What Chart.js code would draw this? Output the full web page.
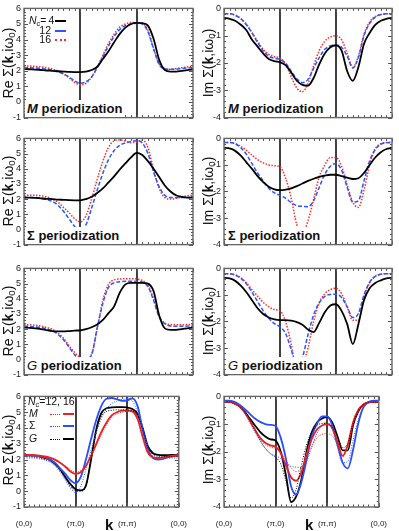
<!DOCTYPE html>
<html lang="en">
<head>
<meta charset="UTF-8">
<title>Self-energy periodization</title>
<script src="https://cdn.jsdelivr.net/npm/chart.js"></script>
<style>
body{margin:0;background:#fff;font-family:"Liberation Sans",Arial,sans-serif;color:#111}
#fig{position:relative;width:399px;height:531px;overflow:hidden}
#fig canvas{position:absolute}
.t{position:absolute;white-space:nowrap;line-height:1}
.ytitle{font-size:14px;transform:translate(-50%,-50%) rotate(-90deg)}
.plab{font-weight:bold;font-size:13px;background:#fff;padding:2px 3px 2px 2px;line-height:13px}
.leg{font-size:10.5px;line-height:11px}
.ln{position:absolute;height:0}
sub{font-size:70%;vertical-align:-0.25em;line-height:0}
.kx{font-weight:bold;font-size:15px}
</style>
</head>
<body>
<div id="fig">
    <!-- y axis titles -->
    <div class="t ytitle" style="left:8px;top:63px">Re Σ(<b>k</b>,iω<sub>0</sub>)</div>
    <div class="t ytitle" style="left:8px;top:191px">Re Σ(<b>k</b>,iω<sub>0</sub>)</div>
    <div class="t ytitle" style="left:8px;top:321px">Re Σ(<b>k</b>,iω<sub>0</sub>)</div>
    <div class="t ytitle" style="left:8px;top:450px">Re Σ(<b>k</b>,iω<sub>0</sub>)</div>
    <div class="t ytitle" style="left:208px;top:63px">Im Σ(<b>k</b>,iω<sub>0</sub>)</div>
    <div class="t ytitle" style="left:208px;top:191px">Im Σ(<b>k</b>,iω<sub>0</sub>)</div>
    <div class="t ytitle" style="left:208px;top:321px">Im Σ(<b>k</b>,iω<sub>0</sub>)</div>
    <div class="t ytitle" style="left:208px;top:450px">Im Σ(<b>k</b>,iω<sub>0</sub>)</div>
</div>

<script>
    // path (0,0) -> (pi,0) -> (pi,pi) -> (0,0), each leg = 1
    const kPath = [0, 0.1, 0.2, 0.3, 0.4, 0.5, 0.6, 0.7, 0.8, 0.9, 1.0,
                   1.1, 1.2, 1.3, 1.4, 1.5, 1.6, 1.7, 1.8, 1.9, 2.0,
                   2.1, 2.2, 2.3, 2.4, 2.5, 2.6, 2.7, 2.8, 2.9, 3.0];
    const kTicks = ['(0,0)', '(π,0)', '(π,π)', '(0,0)'];
    const kMarks = [1, 2];
    const reRange = [-1, 6];
    const imRange = [-4, 0];

    // Re Sigma, M periodization
    const reM4  = [2.12,2.1,2.08,2.05,2.02,2.0,1.97,1.95,1.93,1.92,1.92,1.95,2.05,2.26,2.76,3.26,3.83,4.37,4.77,5.0,5.07,5.05,4.9,4.05,2.7,2.05,1.95,1.95,2.0,2.05,2.08];
    const reM12 = [2.2,2.2,2.18,2.15,2.1,2.05,1.95,1.8,1.6,1.35,1.2,1.3,1.6,2.2,2.9,3.6,4.2,4.65,4.9,5.0,5.05,5.0,4.5,3.4,2.4,2.12,2.1,2.1,2.15,2.18,2.2];
    const reM16 = [2.3,2.3,2.28,2.25,2.2,2.12,2.0,1.8,1.55,1.25,1.1,1.2,1.6,2.25,3.0,3.75,4.35,4.8,5.0,5.1,5.1,5.05,4.6,3.45,2.45,2.15,2.1,2.15,2.2,2.25,2.3];
    // Re Sigma, Sigma periodization
    const reS4  = [2.1,2.1,2.08,2.05,2.02,2.0,1.97,1.95,1.93,1.92,1.92,2.0,2.15,2.4,2.7,3.1,3.5,3.95,4.35,4.75,5.05,4.9,4.5,4.0,3.45,2.9,2.5,2.25,2.15,2.1,2.1];
    const reS12 = [2.1,2.1,2.1,2.05,1.98,1.85,1.6,1.2,0.7,0.2,-0.1,0.3,1.4,2.6,3.7,4.6,5.2,5.55,5.7,5.8,5.85,5.7,5.0,3.8,2.8,2.25,2.1,2.1,2.1,2.1,2.1];
    const reS16 = [2.25,2.25,2.25,2.22,2.15,2.0,1.8,1.45,1.1,0.7,0.5,0.9,2.0,3.3,4.5,5.4,5.85,5.9,5.82,5.72,5.75,5.88,5.4,3.9,2.7,2.1,2.0,2.05,2.15,2.22,2.25];
    // Re Sigma, G periodization
    const reG4  = [2.1,2.08,2.05,2.0,1.93,1.87,1.85,1.85,1.87,1.9,1.92,2.0,2.12,2.3,2.6,3.05,3.5,4.4,4.95,5.05,5.05,5.05,5.0,4.5,2.9,2.05,1.95,1.95,2.0,2.05,2.1];
    const reG12 = [2.2,2.18,2.15,2.1,2.0,1.9,1.65,1.3,0.8,0.3,0.02,0.0,0.3,2.1,3.7,4.75,5.05,5.12,5.15,5.15,5.15,5.1,4.8,3.9,2.8,2.35,2.2,2.18,2.18,2.2,2.2];
    const reG16 = [2.3,2.28,2.25,2.2,2.1,2.0,1.75,1.4,0.9,0.45,0.12,0.05,0.35,2.0,3.9,4.95,5.25,5.3,5.32,5.32,5.3,5.2,4.9,4.0,2.85,2.4,2.3,2.28,2.28,2.3,2.3];

    // Im Sigma, M periodization
    const imM4  = [-0.35,-0.38,-0.45,-0.6,-0.8,-1.15,-1.4,-1.65,-1.85,-1.93,-1.97,-2.08,-2.35,-2.65,-2.8,-2.83,-2.55,-2.05,-1.65,-1.42,-1.35,-1.55,-2.3,-2.65,-2.15,-1.3,-0.9,-0.6,-0.45,-0.38,-0.35];
    const imM12 = [-0.2,-0.2,-0.25,-0.38,-0.6,-0.9,-1.25,-1.55,-1.75,-1.83,-1.87,-2.0,-2.3,-2.58,-2.72,-2.6,-2.2,-1.8,-1.5,-1.37,-1.35,-1.42,-1.75,-2.18,-1.8,-1.0,-0.55,-0.32,-0.23,-0.2,-0.2];
    const imM16 = [-0.2,-0.2,-0.25,-0.37,-0.58,-0.88,-1.2,-1.5,-1.68,-1.77,-1.82,-2.05,-2.5,-2.92,-3.05,-2.75,-2.1,-1.55,-1.2,-1.05,-1.0,-1.15,-1.65,-2.15,-1.75,-0.95,-0.5,-0.3,-0.22,-0.2,-0.2];
    // Im Sigma, Sigma periodization
    const imS4  = [-0.35,-0.38,-0.47,-0.65,-0.9,-1.15,-1.42,-1.65,-1.82,-1.92,-1.95,-1.93,-1.88,-1.8,-1.7,-1.6,-1.52,-1.45,-1.4,-1.37,-1.37,-1.42,-1.48,-1.53,-1.5,-1.3,-1.0,-0.72,-0.52,-0.4,-0.35];
    const imS12 = [-0.15,-0.15,-0.2,-0.35,-0.6,-0.95,-1.3,-1.6,-1.88,-2.05,-2.15,-2.25,-2.42,-2.53,-2.56,-2.57,-2.35,-1.85,-1.35,-1.05,-0.95,-1.2,-1.85,-2.4,-2.35,-1.6,-0.85,-0.42,-0.22,-0.16,-0.15];
    const imS16 = [-0.15,-0.15,-0.2,-0.3,-0.45,-0.63,-0.8,-0.92,-1.0,-1.03,-1.07,-1.5,-2.25,-3.25,-3.55,-3.1,-2.3,-1.45,-1.0,-0.72,-0.72,-1.05,-1.75,-2.4,-2.6,-1.95,-1.0,-0.4,-0.2,-0.15,-0.15];
    // Im Sigma, G periodization
    const imG4  = [-0.35,-0.38,-0.47,-0.65,-0.9,-1.2,-1.5,-1.72,-1.85,-1.92,-1.95,-1.95,-1.97,-2.02,-2.12,-2.3,-2.4,-2.05,-1.65,-1.4,-1.35,-1.6,-2.1,-2.85,-2.1,-1.2,-0.75,-0.55,-0.45,-0.38,-0.35];
    const imG12 = [-0.2,-0.2,-0.25,-0.37,-0.58,-0.9,-1.25,-1.6,-1.88,-2.08,-2.2,-2.45,-3.05,-3.68,-3.35,-2.5,-1.75,-1.3,-1.05,-0.98,-0.97,-1.1,-1.45,-1.85,-1.7,-1.0,-0.52,-0.3,-0.22,-0.2,-0.2];
    const imG16 = [-0.2,-0.2,-0.25,-0.35,-0.55,-0.8,-1.05,-1.28,-1.45,-1.55,-1.6,-2.0,-2.85,-3.82,-3.62,-3.0,-2.0,-1.3,-0.95,-0.8,-0.75,-0.95,-1.45,-1.95,-1.95,-1.05,-0.55,-0.3,-0.22,-0.2,-0.2];

    const fig = document.getElementById('fig');
    const rows = [{top: 5, h: 116}, {top: 135, h: 113}, {top: 265, h: 113}, {top: 393, h: 114}];

    function pts(arr) {
        return arr.map((y, i) => ({x: kPath[i], y: y}));
    }

    // frame, inward ticks and the two vertical path markers
    const framePlugin = {
        id: 'framePlugin',
        beforeDatasetsDraw(chart) {
            const {ctx, chartArea: a, scales: {x}} = chart;
            ctx.save();
            ctx.strokeStyle = '#111';
            ctx.lineWidth = 1.6;
            kMarks.forEach(v => {
                const px = Math.round(x.getPixelForValue(v));
                ctx.beginPath(); ctx.moveTo(px, a.top); ctx.lineTo(px, a.bottom); ctx.stroke();
            });
            ctx.restore();
        },
        afterDatasetsDraw(chart) {
            const {ctx, chartArea: a, scales: {x, y}} = chart;
            ctx.save();
            ctx.strokeStyle = '#555';
            ctx.lineWidth = 1;
            ctx.beginPath();
            for (let i = 0; i <= 30; i++) {
                const px = Math.round(x.getPixelForValue(i / 10)) + 0.5;
                const len = i % 10 === 0 ? 4 : 2.5;
                ctx.moveTo(px, a.bottom); ctx.lineTo(px, a.bottom - len);
                ctx.moveTo(px, a.top); ctx.lineTo(px, a.top + len);
            }
            const n = Math.round((y.max - y.min) * 5);
            for (let i = 0; i <= n; i++) {
                const py = Math.round(y.getPixelForValue(y.min + i / 5)) + 0.5;
                const len = i % 5 === 0 ? 4 : 2;
                ctx.moveTo(a.left, py); ctx.lineTo(a.left + len, py);
                ctx.moveTo(a.right, py); ctx.lineTo(a.right - len, py);
            }
            ctx.stroke();
            ctx.strokeStyle = '#666';
            ctx.lineWidth = 1.4;
            ctx.strokeRect(a.left, a.top, a.right - a.left, a.bottom - a.top);
            ctx.restore();
        }
    };

    function panel(col, row, range, datasets) {
        const r = rows[row];
        const last = row === 3;
        const cv = document.createElement('canvas');
        const w = 199;
        const h = r.h + 5 + (last ? 24 : 5);
        cv.width = w; cv.height = h;
        cv.style.left = (col === 0 ? 0 : 200) + 'px';
        cv.style.top = (r.top - 5) + 'px';
        fig.insertBefore(cv, fig.firstChild);
        new Chart(cv.getContext('2d'), {
            type: 'line',
            data: {datasets: datasets},
            options: {
                responsive: false,
                animation: false,
                events: [],
                layout: {padding: {left: 0, top: 5, right: col === 0 ? 6 : 7, bottom: last ? 0 : 5}},
                plugins: {legend: {display: false}, tooltip: {enabled: false}},
                elements: {point: {radius: 0}, line: {cubicInterpolationMode: 'monotone', fill: false}},
                scales: {
                    x: {
                        type: 'linear', min: 0, max: 3, display: last,
                        grid: {display: false, drawTicks: false}, border: {display: false},
                        ticks: {
                            stepSize: 1, maxRotation: 0, padding: 12, color: '#222',
                            font: {size: 8, family: '"Liberation Sans", Arial'},
                            callback: v => kTicks[Math.round(v)]
                        },
                        afterFit: s => { s.height = last ? 24 : 0; }
                    },
                    y: {
                        min: range[0], max: range[1],
                        grid: {display: false, drawTicks: false}, border: {display: false},
                        ticks: {stepSize: 1, padding: 3, color: '#222', font: {size: 9, family: '"Liberation Sans", Arial'}},
                        afterFit: s => { s.width = 24; }
                    }
                }
            },
            plugins: [framePlugin]
        });
    }

    // Nc comparison styles
    function nc4(d)  { return {data: pts(d), borderColor: '#000', borderWidth: 1.8}; }
    function nc12(d) { return {data: pts(d), borderColor: '#2b55ff', borderWidth: 1.5, borderDash: [4, 2]}; }
    function nc16(d) { return {data: pts(d), borderColor: '#ff2a2a', borderWidth: 1.5, borderDash: [1.5, 1.5]}; }
    // periodization comparison styles
    function dotted(d, c) { return {data: pts(d), borderColor: c, borderWidth: 1, borderDash: [1, 1.5]}; }
    function solid(d, c)  { return {data: pts(d), borderColor: c, borderWidth: 1.8}; }
    const cM = '#ee1f1f', cS = '#2a4dff', cG = '#000';

    panel(0, 0, reRange, [nc4(reM4), nc12(reM12), nc16(reM16)]);
    panel(0, 1, reRange, [nc4(reS4), nc12(reS12), nc16(reS16)]);
    panel(0, 2, reRange, [nc4(reG4), nc12(reG12), nc16(reG16)]);
    panel(0, 3, reRange, [dotted(reM12, cM), dotted(reS12, cS), dotted(reG12, cG),
                          solid(reM16, cM), solid(reS16, cS), solid(reG16, cG)]);
    panel(1, 0, imRange, [nc4(imM4), nc12(imM12), nc16(imM16)]);
    panel(1, 1, imRange, [nc4(imS4), nc12(imS12), nc16(imS16)]);
    panel(1, 2, imRange, [nc4(imG4), nc12(imG12), nc16(imG16)]);
    panel(1, 3, imRange, [dotted(imM12, cM), dotted(imS12, cS), dotted(imG12, cG),
                          solid(imM16, cM), solid(imS16, cS), solid(imG16, cG)]);

    // text overlays
    function addText(html, cls, left, top, extra) {
        const d = document.createElement('div');
        d.className = 't ' + cls;
        d.innerHTML = html;
        d.style.left = left + 'px';
        d.style.top = top + 'px';
        if (extra) d.style.cssText += extra;
        fig.appendChild(d);
    }
    function addLine(left, top, width, css) {
        const d = document.createElement('div');
        d.className = 'ln';
        d.style.left = left + 'px';
        d.style.top = top + 'px';
        d.style.width = width + 'px';
        d.style.borderTop = css;
        fig.appendChild(d);
    }

    const labels = ['<i>M</i> periodization', 'Σ periodization', '<i style="font-weight:normal">G</i> periodization'];
    const bottoms = [121, 248, 378];
    labels.forEach((l, i) => {
        addText(l, 'plab', 25, bottoms[i] - 21);
        addText(l, 'plab', 226, bottoms[i] - 21);
    });

    // Nc legend, top-left panel
    addText('<i>N</i><sub>c</sub>=&thinsp;4', 'leg', 29, 15);
    addText('12', 'leg', 37, 25, 'width:14px;text-align:right');
    addText('16', 'leg', 37, 34, 'width:14px;text-align:right');
    addLine(55, 20, 11, '2px solid #000');
    addLine(55, 30, 11, '2px dashed #2b55ff');
    addLine(55, 39, 11, '2px dotted #ff2a2a');

    // periodization legend, bottom-left panel
    addText('<i>N</i><sub>c</sub>=12, 16', 'leg', 28, 396);
    addText('<i>M</i>', 'leg', 29, 408);
    addText('Σ', 'leg', 29, 420);
    addText('<i>G</i>', 'leg', 29, 433);
    [[414, cM], [426, cS], [439, cG]].forEach(([y, c]) => {
        addLine(50, y, 10, '1px dotted ' + c);
        addLine(63, y - 1, 11, '2px solid ' + c);
    });

    addText('k', 'kx', 105, 517);
    addText('k', 'kx', 305, 517);
</script>
</body>
</html>
